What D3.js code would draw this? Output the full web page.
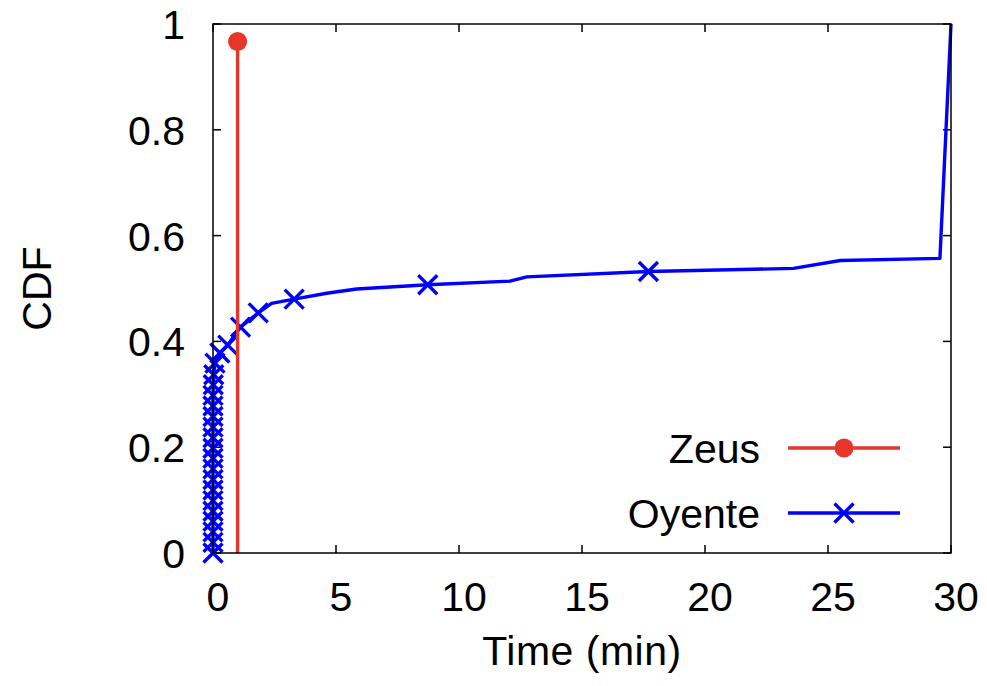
<!DOCTYPE html>
<html>
<head>
<meta charset="utf-8">
<script src="https://cdn.jsdelivr.net/npm/d3@7"></script>
<style>
    body { margin: 0; background: #fff; }
    svg text { font-family: "Liberation Sans", Arial, Helvetica, sans-serif; fill: #000; }
</style>
</head>
<body>
<script>
'use strict';

// axis ticks
var xTicks = [0, 5, 10, 15, 20, 25, 30];
var yTicks = [0, 0.2, 0.4, 0.6, 0.8, 1];
var yTickLabels = ['0', '0.2', '0.4', '0.6', '0.8', '1'];

// Zeus: a single jump at ~1 min
var zeusTime = [1.0, 1.0];
var zeusCdf = [0, 0.967];

// Oyente curve
var oyenteTime = [0, 0, 0.03, 0.08, 0.28, 0.6, 1.12, 1.84, 2.38, 3.3, 4.62, 5.84, 8.73, 12.07, 12.76, 17.7, 23.6, 25.5, 29.55, 30];
var oyenteCdf = [0, 0.30, 0.337, 0.359, 0.378, 0.393, 0.427, 0.454, 0.472, 0.48, 0.491, 0.499, 0.507, 0.514, 0.522, 0.532, 0.538, 0.553, 0.557, 1.0];

// Oyente point markers
var oyenteMarkTime = [0, 0, 0, 0, 0, 0, 0, 0, 0, 0, 0, 0, 0, 0, 0, 0, 0.01, 0.03, 0.08, 0.28, 0.6, 1.12, 1.84, 3.3, 8.73, 17.7];
var oyenteMarkCdf = [0, 0.02, 0.04, 0.06, 0.079, 0.099, 0.119, 0.139, 0.159, 0.179, 0.198, 0.218, 0.238, 0.258, 0.278, 0.298, 0.318, 0.337, 0.359, 0.378, 0.393, 0.427, 0.454, 0.48, 0.507, 0.532];

var seriesNames = ['Zeus', 'Oyente'];
var seriesColors = ['#e8352b', '#0000ff'];

var W = 987, H = 686;
var margin = {top: 24, right: 36, bottom: 133, left: 213};
var width = W - margin.left - margin.right,
    height = H - margin.top - margin.bottom;
var FONT = 41;
var LW = 3.4;

var svg = d3.select('body').append('svg')
    .attr('width', W)
    .attr('height', H);

var g = svg.append('g')
    .attr('transform', 'translate(' + margin.left + ',' + margin.top + ')');

var x = d3.scaleLinear().domain([0, 30]).range([0, width]);
var y = d3.scaleLinear().domain([0, 1]).range([height, 0]);

// inward ticks on all four sides (gnuplot style mirror)
var tickLen = 8;
var ticks = g.append('g').attr('stroke', '#000').attr('stroke-width', 1.5);
xTicks.forEach(function(t) {
    ticks.append('line').attr('x1', x(t)).attr('x2', x(t)).attr('y1', height).attr('y2', height - tickLen);
    ticks.append('line').attr('x1', x(t)).attr('x2', x(t)).attr('y1', 0).attr('y2', tickLen);
});
yTicks.forEach(function(t) {
    ticks.append('line').attr('x1', 0).attr('x2', tickLen).attr('y1', y(t)).attr('y2', y(t));
    ticks.append('line').attr('x1', width).attr('x2', width - tickLen).attr('y1', y(t)).attr('y2', y(t));
});

// tick labels
g.selectAll('.xlabel')
    .data(xTicks)
    .enter().append('text')
    .attr('class', 'xlabel')
    .attr('x', function(d) { return x(d) + 5; })
    .attr('y', height + 58)
    .attr('text-anchor', 'middle')
    .style('font-size', FONT + 'px')
    .text(function(d) { return d; });

g.selectAll('.ylabel')
    .data(yTicks)
    .enter().append('text')
    .attr('class', 'ylabel')
    .attr('x', -28)
    .attr('y', function(d) { return y(d) + 15; })
    .attr('text-anchor', 'end')
    .style('font-size', FONT + 'px')
    .text(function(d, i) { return yTickLabels[i]; });

// axis titles
svg.append('text')
    .attr('transform', 'translate(51,' + (margin.top + height / 2) + ') rotate(-90)')
    .attr('text-anchor', 'middle')
    .style('font-size', FONT + 'px')
    .text('CDF');

svg.append('text')
    .attr('x', margin.left + width / 2)
    .attr('y', 665)
    .attr('text-anchor', 'middle')
    .style('font-size', FONT + 'px')
    .style('letter-spacing', '0.5px')
    .text('Time (min)');

// series
var line = d3.line()
    .x(function(d) { return x(d[0]); })
    .y(function(d) { return y(d[1]); })
    .curve(d3.curveMonotoneX);

var zeusData = d3.zip(zeusTime, zeusCdf);
var oyenteData = d3.zip(oyenteTime, oyenteCdf);
var oyenteMarks = d3.zip(oyenteMarkTime, oyenteMarkCdf);

g.append('path')
    .datum(oyenteData)
    .attr('fill', 'none')
    .attr('stroke', seriesColors[1])
    .attr('stroke-width', LW)
    .attr('stroke-linejoin', 'round')
    .attr('d', d3.line()
        .x(function(d) { return x(d[0]); })
        .y(function(d) { return y(d[1]); }));

var cross = 9.5;
function drawCross(sel, cx, cy) {
    sel.append('path')
        .attr('d', 'M' + (cx - cross) + ',' + (cy - cross) + 'L' + (cx + cross) + ',' + (cy + cross) +
                   'M' + (cx - cross) + ',' + (cy + cross) + 'L' + (cx + cross) + ',' + (cy - cross))
        .attr('stroke', seriesColors[1])
        .attr('stroke-width', LW)
        .attr('fill', 'none');
}

var marks = g.append('g');
oyenteMarks.forEach(function(d) {
    drawCross(marks, x(d[0]), y(d[1]));
});

g.append('path')
    .datum(zeusData)
    .attr('fill', 'none')
    .attr('stroke', seriesColors[0])
    .attr('stroke-width', LW)
    .attr('d', line);

g.append('circle')
    .attr('cx', x(zeusTime[1]))
    .attr('cy', y(zeusCdf[1]))
    .attr('r', 9.5)
    .attr('fill', seriesColors[0]);

// border
g.append('rect')
    .attr('width', width)
    .attr('height', height)
    .attr('fill', 'none')
    .attr('stroke', '#000')
    .attr('stroke-width', 1.5);

// legend
var legend = svg.append('g');
var legendY = [448, 513];
seriesNames.forEach(function(name, i) {
    legend.append('text')
        .attr('x', 760)
        .attr('y', legendY[i] + 15)
        .attr('text-anchor', 'end')
        .style('font-size', FONT + 'px')
        .text(name);
    legend.append('line')
        .attr('x1', 788).attr('x2', 900)
        .attr('y1', legendY[i]).attr('y2', legendY[i])
        .attr('stroke', seriesColors[i])
        .attr('stroke-width', LW);
    if (i === 0) {
        legend.append('circle')
            .attr('cx', 844).attr('cy', legendY[i]).attr('r', 9.5)
            .attr('fill', seriesColors[i]);
    } else {
        drawCross(legend, 844, legendY[i]);
    }
});
</script>
</body>
</html>
